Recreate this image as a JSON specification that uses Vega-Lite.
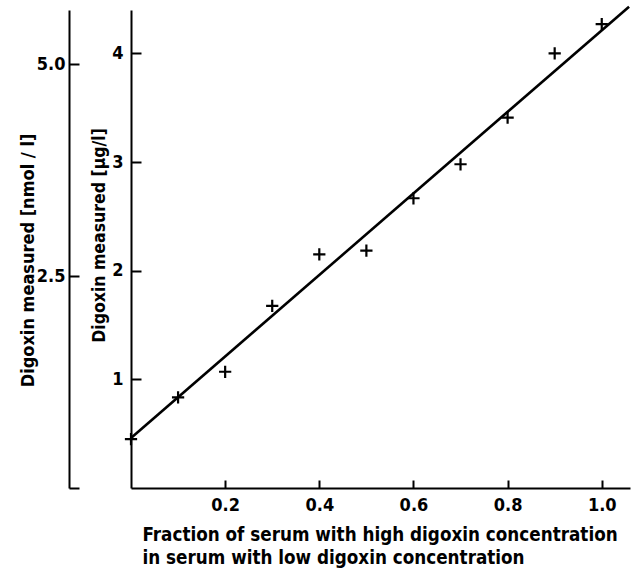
{
  "$schema": "https://vega.github.io/schema/vega-lite/v6.json",
  "width": 499,
  "height": 478,
  "autosize": {"type": "none"},
  "padding": {"left": 131, "top": 10, "right": 11, "bottom": 83},
  "background": "white",
  "config": {
    "view": {"stroke": null},
    "font": "DejaVu Sans Condensed",
    "axis": {
      "domainColor": "black",
      "domainWidth": 2,
      "tickColor": "black",
      "tickWidth": 2,
      "labelColor": "black",
      "titleColor": "black",
      "labelFont": "DejaVu Sans Condensed",
      "titleFont": "DejaVu Sans Condensed",
      "labelFontSize": 18,
      "labelFontWeight": "bold",
      "titleFontSize": 18.7,
      "titleFontWeight": "bold",
      "grid": false
    }
  },
  "datasets": {
    "measured": [
      {"fraction": 0.0, "ug": 0.45},
      {"fraction": 0.1, "ug": 0.835},
      {"fraction": 0.2, "ug": 1.07},
      {"fraction": 0.3, "ug": 1.676},
      {"fraction": 0.4, "ug": 2.15},
      {"fraction": 0.5, "ug": 2.185},
      {"fraction": 0.6, "ug": 2.667},
      {"fraction": 0.7, "ug": 2.98},
      {"fraction": 0.8, "ug": 3.41},
      {"fraction": 0.9, "ug": 4.0},
      {"fraction": 1.0, "ug": 4.27}
    ],
    "fit": [
      {"fraction": 0.0, "ug": 0.46},
      {"fraction": 1.058, "ug": 4.43}
    ],
    "nmolScale": [
      {"nmol": 0},
      {"nmol": 2.5},
      {"nmol": 5.0}
    ]
  },
  "layer": [
    {
      "layer": [
        {
          "data": {"name": "fit"},
          "mark": {"type": "line", "color": "black", "strokeWidth": 2.6, "clip": false},
          "encoding": {
            "x": {"field": "fraction", "type": "quantitative"},
            "y": {"field": "ug", "type": "quantitative"}
          }
        },
        {
          "data": {"name": "measured"},
          "mark": {
            "type": "point",
            "shape": "M-1,0L1,0M0,-1L0,1",
            "filled": false,
            "color": "black",
            "strokeWidth": 2.2,
            "size": 150,
            "opacity": 1
          },
          "encoding": {
            "x": {
              "field": "fraction",
              "type": "quantitative",
              "scale": {"domain": [0, 1.06], "nice": false, "zero": false},
              "axis": {
                "values": [0.2, 0.4, 0.6, 0.8, 1.0],
                "format": ".1f",
                "tickSize": -8,
                "labelPadding": 16,
                "title": [
                  "Fraction of serum with high digoxin concentration",
                  " in serum with low digoxin concentration"
                ],
                "titleAlign": "left",
                "titleAnchor": "start",
                "titleX": 11,
                "titleY": 52,
                "titleBaseline": "alphabetic",
                "titleLineHeight": 23
              }
            },
            "y": {
              "field": "ug",
              "type": "quantitative",
              "scale": {"domain": [0, 4.4], "nice": false},
              "axis": {
                "values": [1, 2, 3, 4],
                "format": "d",
                "tickSize": -10,
                "labelPadding": 18,
                "title": "Digoxin measured [µg/l]",
                "titleFontSize": 17.5,
                "titleX": -27,
                "titleY": 225,
                "titleAngle": -90,
                "titleAlign": "center",
                "titleBaseline": "alphabetic"
              }
            }
          }
        }
      ]
    },
    {
      "data": {"name": "nmolScale"},
      "mark": {"type": "point", "opacity": 0},
      "encoding": {
        "y": {
          "field": "nmol",
          "type": "quantitative",
          "scale": {"domain": [0, 5.64], "nice": false},
          "axis": {
            "orient": "left",
            "offset": 62,
            "values": [0, 2.5, 5.0],
            "labelExpr": "datum.value == 0 ? '' : format(datum.value, '.1f')",
            "tickSize": -10,
            "labelPadding": 14,
            "title": "Digoxin measured [nmol / l]",
            "titleFontSize": 18,
            "titleX": -36,
            "titleY": 250,
            "titleAngle": -90,
            "titleAlign": "center",
            "titleBaseline": "alphabetic"
          }
        }
      }
    }
  ],
  "resolve": {"scale": {"y": "independent"}, "axis": {"y": "independent"}}
}
